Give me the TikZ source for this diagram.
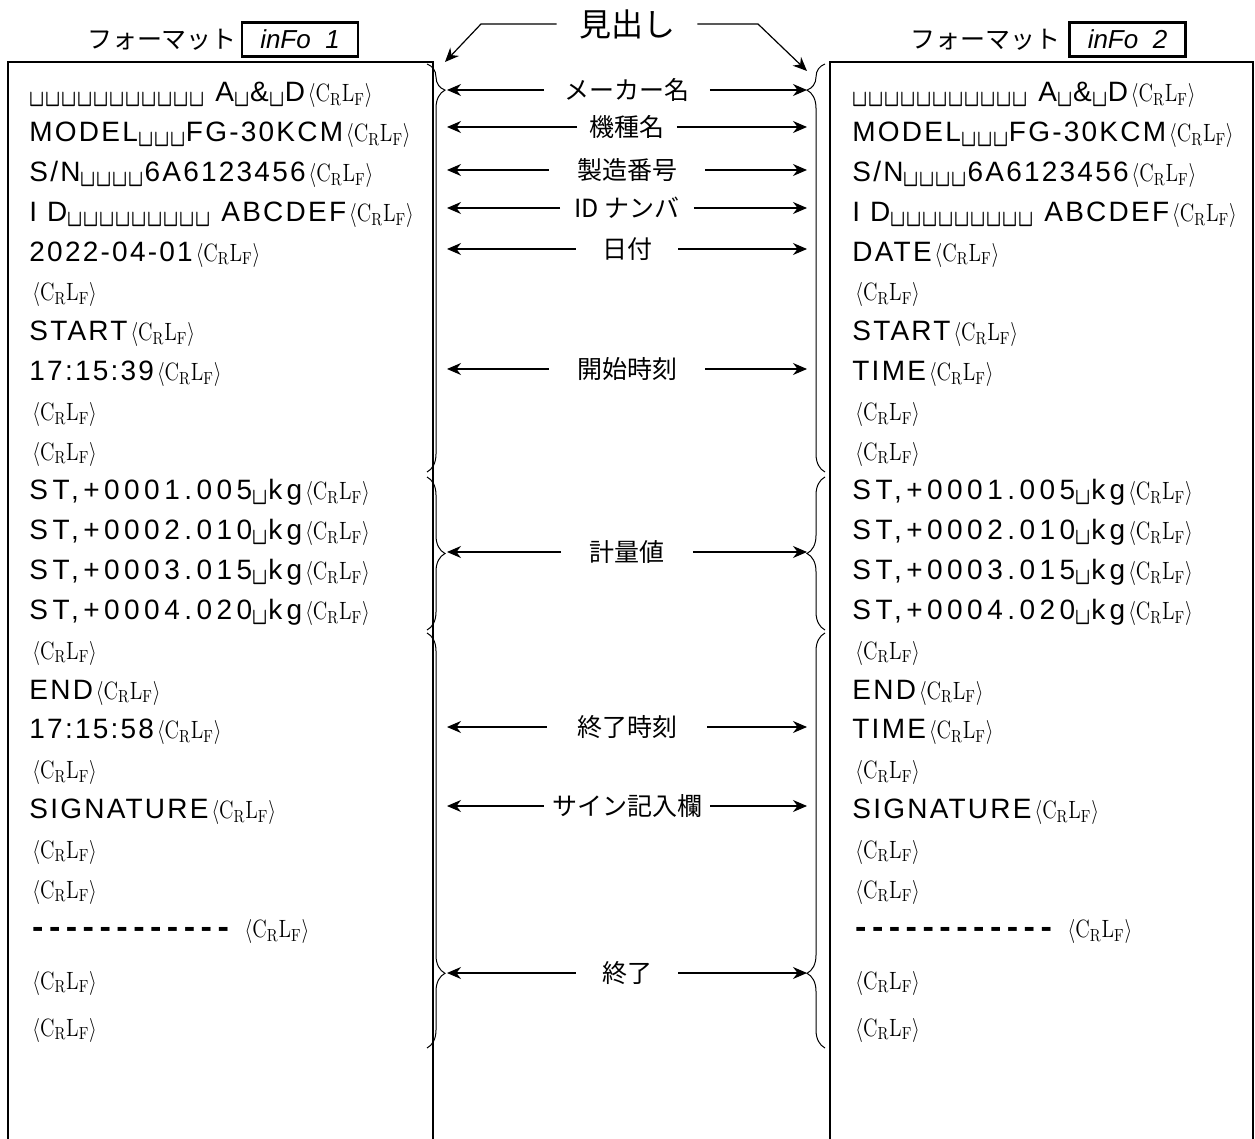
\documentclass[tikz,border=0pt]{standalone}
\usepackage{fontspec}
\usepackage{graphicx}
\usetikzlibrary{arrows.meta,decorations.pathreplacing}

\newfontfamily\jpfont{Noto Sans CJK JP}
\newfontfamily\rowfont[LetterSpace=8]{Liberation Sans}
\newfontfamily\stfont[LetterSpace=16]{Liberation Sans}
\newfontfamily\dispfont{Liberation Sans}
\newfontfamily\dashfont{DejaVu Sans Mono}

\newcommand{\blk}{\makebox[8pt]{\scalebox{1.05}[1.4]{\ttfamily\char"2423}}}
\newcommand{\blks}[1]{\foreach \k in {1,...,#1}{\blk}}
\newcommand{\crlf}{\mbox{\kern1.5pt\scalebox{0.82}[1]{\fontsize{12.5pt}{12.5pt}\selectfont$\langle\mathrm{C_R L_F}\rangle$}}}
\newcommand{\dsh}{-\kern0pt}
\newcommand{\strow}[1]{{\stfont ST,+#1\blk kg}}

\begin{document}
\begin{tikzpicture}[x=0.5pt,y=-0.5pt,
        frame/.style={line width=1.2pt},
        row/.style={anchor=base west, inner sep=0pt, font={\rowfont\fontsize{14pt}{14pt}\selectfont}},
        hdr/.style={inner sep=0pt, font={\jpfont\fontsize{12.5pt}{13pt}\selectfont}},
        dispbox/.style={draw, line width=1.1pt, minimum width=58pt, minimum height=17pt, inner sep=0pt, font={\dispfont\itshape\fontsize{13pt}{13pt}\selectfont}},
        lbl/.style={inner ysep=0pt, font={\jpfont\fontsize{12.5pt}{13pt}\selectfont}},
        arrow/.style={-{Stealth[length=7pt,width=6pt]}, line width=0.6pt},
        brace/.style={decorate, line width=0.5pt}
    ]
    \useasboundingbox (0,0) rectangle (1255,1139);

    % Headers
    \node[hdr] (fmtl) at (162,40) {フォーマット};
    \node[dispbox] (displ) at (300,39.5) {inFo\ \ 1};
    \node[hdr] (fmtr) at (985,40) {フォーマット};
    \node[dispbox] (dispr) at (1127.5,39.5) {inFo\ \ 2};

    % Frames (open at the bottom)
    \draw[frame] (8,1139) -- (8,62) -- (433,62) -- (433,1139);
    \draw[frame] (830,1139) -- (830,62) -- (1253,62) -- (1253,1139);

    % Left output
    \foreach \t [count=\i from 0] in {%
        \blks{11}\ A\blk\&\blk D,%
        MODEL\blks{3}FG-30KCM,%
        S/N\blks{4}6A6123456,%
        I D\blks{9}\ ABCDEF,%
        2022-04-01,{},START,17:15:39,{},{},%
        {\strow{0001.005}},{\strow{0002.010}},{\strow{0003.015}},{\strow{0004.020}},%
        {},END,17:15:58,{},SIGNATURE,{},{},%
        {{\dashfont\bfseries\dsh\dsh\dsh\dsh\dsh\dsh\dsh\dsh\dsh\dsh\dsh\dsh}\ }}
        \node[row] (l\i) at (29,{102+39.8*\i}) {\t\crlf};
    \node[row] (l22) at (29,989) {\crlf};
    \node[row] (l23) at (29,1036) {\crlf};

    % Right output
    \foreach \t [count=\i from 0] in {%
        \blks{11}\ A\blk\&\blk D,%
        MODEL\blks{3}FG-30KCM,%
        S/N\blks{4}6A6123456,%
        I D\blks{9}\ ABCDEF,%
        DATE,{},START,TIME,{},{},%
        {\strow{0001.005}},{\strow{0002.010}},{\strow{0003.015}},{\strow{0004.020}},%
        {},END,TIME,{},SIGNATURE,{},{},%
        {{\dashfont\bfseries\dsh\dsh\dsh\dsh\dsh\dsh\dsh\dsh\dsh\dsh\dsh\dsh}\ }}
        \node[row] (r\i) at (852,{102+39.8*\i}) {\t\crlf};
    \node[row] (r22) at (852,989) {\crlf};
    \node[row] (r23) at (852,1036) {\crlf};

    % Braces
    \draw[brace, decoration={brace, amplitude=9pt, aspect=0.064}] (427,64) -- (427,472);
    \draw[brace, decoration={brace, amplitude=9pt, aspect=0.936}] (825,472) -- (825,64);
    \draw[brace, decoration={brace, amplitude=9pt, aspect=0.5}] (427,477) -- (427,630);
    \draw[brace, decoration={brace, amplitude=9pt, aspect=0.5}] (825,630) -- (825,477);
    \draw[brace, decoration={brace, amplitude=9pt, aspect=0.82}] (427,633) -- (427,1048);
    \draw[brace, decoration={brace, amplitude=9pt, aspect=0.18}] (825,1048) -- (825,633);

    % Heading label
    \node[lbl, inner xsep=11pt, font={\jpfont\fontsize{16pt}{16pt}\selectfont}] (head) at (627,24) {見出し};
    \coordinate (headlc) at (481,24);
    \coordinate (headl) at (445,62);
    \coordinate (headrc) at (758,24);
    \coordinate (headr) at (807,71);
    \draw[arrow] (head.west) -- (headlc) -- (headl);
    \draw[arrow] (head.east) -- (headrc) -- (headr);

    % Field labels
    \foreach \ly/\txt/\gap/\nm in {90/メーカー名/10pt/mkr, 127/機種名/6pt/mdl,
        170/製造番号/14pt/sn, 208/ID ナンバ/7pt/id, 249/日付/13pt/dt,
        369/開始時刻/14pt/st, 552/計量値/14pt/wv, 727/終了時刻/15pt/et,
        806/サイン記入欄/4pt/sg, 973/終了/13pt/ed} {
        \node[lbl, inner xsep=\gap] (\nm) at (627,\ly) {\txt};
        \coordinate (\nm-l) at (447,\ly);
        \coordinate (\nm-r) at (807,\ly);
        \draw[arrow] (\nm.west) -- (\nm-l);
        \draw[arrow] (\nm.east) -- (\nm-r);
    }
\end{tikzpicture}
\end{document}
